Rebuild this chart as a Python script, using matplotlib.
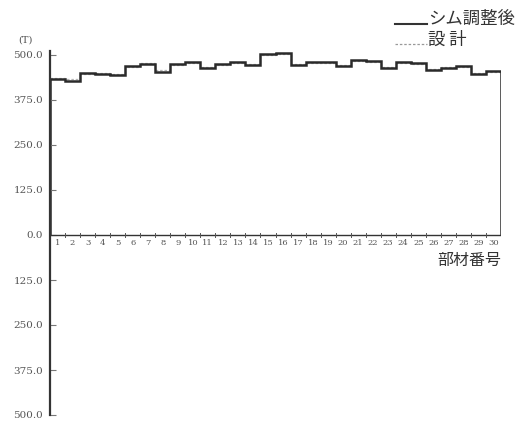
import numpy as np
import matplotlib.pyplot as plt

plt.rcParams['font.family'] = ['Noto Sans CJK JP', 'DejaVu Sans']

# member numbers and forces (T)
members = list(range(1, 31))
adjusted = [433, 428, 451, 446, 444, 469, 475, 454, 476, 481,
            463, 476, 480, 471, 502, 505, 472, 480, 481, 469,
            486, 484, 463, 480, 479, 458, 463, 469, 447, 456]
design = [436, 432, 448, 449, 447, 466, 478, 457, 473, 478,
          467, 473, 477, 474, 499, 502, 475, 477, 478, 472,
          483, 481, 466, 477, 476, 461, 466, 466, 450, 453]
yticks = [-500, -375, -250, -125, 0, 125, 250, 375, 500]

fig = plt.figure(figsize=(5.18, 4.21), dpi=100)
ax = fig.add_axes([50 / 518, 6 / 421, 451 / 518, 363.6 / 421])

edges = np.arange(0, len(members) + 1)
ax.stairs(design, edges, baseline=None, color='#b5b5b5', lw=0.9, ls=(0, (2, 1.5)))
ax.stairs(adjusted, edges, baseline=0, color='#2a2a2a', lw=1.8)

ax.set_xlim(0, 30)
ax.set_ylim(-500, 510)

for s in ['top', 'right', 'bottom']:
    ax.spines[s].set_visible(False)
ax.spines['left'].set_color('#333333')
ax.spines['left'].set_linewidth(1.6)
ax.axhline(0, xmin=0, xmax=1, color='#333333', lw=1.0)

ax.set_yticks(yticks)
ax.set_yticklabels([f'{abs(v):.1f}' for v in yticks], fontsize=7.5, color='#555555',
                   family='DejaVu Serif')
ax.tick_params(axis='y', direction='in', length=4, color='#777777', pad=5)
ax.set_xticks([])

# member boundary ticks on the zero line
for b in edges[1:-1]:
    ax.plot([b, b], [-6, 6], color='#555555', lw=0.7)
for m in members:
    ax.text(m - 0.5, -12, str(m), ha='center', va='top', fontsize=6,
            color='#555555', family='DejaVu Serif')

fig.text(18 / 518, 1 - 40 / 421, '(T)', fontsize=7, color='#555555', va='center',
         family='DejaVu Serif')
fig.text(501 / 518, 1 - 260 / 421, '部材番号', fontsize=11.5, color='#333333',
         ha='right', va='center')

# legend
fig.text(428 / 518, 1 - 19 / 421, 'シム調整後', fontsize=12.5, color='#333333',
         ha='left', va='center')
fig.add_artist(plt.Line2D([395 / 518, 427 / 518], [1 - 24 / 421, 1 - 24 / 421],
                          color='#333333', lw=1.5))
fig.text(428 / 518, 1 - 40 / 421, '設 計', fontsize=12.5, color='#333333',
         ha='left', va='center')
fig.add_artist(plt.Line2D([395 / 518, 427 / 518], [1 - 44 / 421, 1 - 44 / 421],
                          color='#999999', lw=0.9, ls=(0, (2, 1.5))))

fig.savefig('out.png', dpi=100, facecolor='white')
